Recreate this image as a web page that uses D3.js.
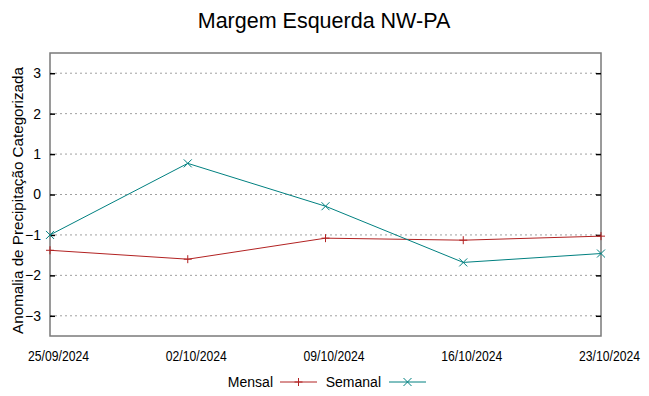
<!DOCTYPE html>
<html>
<head>
<meta charset="utf-8">
<script src="https://cdn.jsdelivr.net/npm/d3@7"></script>
<style>
  body { margin: 0; background: #fff; }
  text { font-family: "Liberation Sans", Arial, sans-serif; }
</style>
</head>
<body>
<div id="chart"></div>
<script>
// chart values
var dates = ["25/09/2024", "02/10/2024", "09/10/2024", "16/10/2024", "23/10/2024"];
var mensal = [-1.38, -1.60, -1.08, -1.13, -1.03];
var semanal = [-1.00, 0.77, -0.29, -1.68, -1.46];
var yTicks = [-3, -2, -1, 0, 1, 2, 3];

var W = 649, H = 396;
var margin = {top: 53, right: 48, bottom: 60, left: 50},
    width = W - margin.left - margin.right,
    height = H - margin.top - margin.bottom;

var svg = d3.select("#chart").append("svg")
    .attr("width", W)
    .attr("height", H);

var g = svg.append("g")
    .attr("transform", "translate(" + margin.left + "," + margin.top + ")");

var x = d3.scalePoint()
    .domain(dates)
    .range([0, width]);

var y = d3.scaleLinear()
    .domain([-3.5, 3.5])
    .range([height, 0]);

// grid
g.selectAll(".grid")
    .data(yTicks)
    .enter()
    .append("line")
    .attr("class", "grid")
    .attr("x1", 0)
    .attr("x2", width)
    .attr("y1", function(d){ return y(d); })
    .attr("y2", function(d){ return y(d); })
    .attr("stroke", "#a0a0a0")
    .attr("stroke-width", 1)
    .attr("stroke-dasharray", "2,3");

// border
g.append("rect")
    .attr("x", 0)
    .attr("y", 0)
    .attr("width", width)
    .attr("height", height)
    .attr("fill", "none")
    .attr("stroke", "#7a7a7a")
    .attr("stroke-width", 1.5);

// y axis, left and mirrored right
var yAxis = d3.axisLeft(y).tickValues(yTicks).tickSize(-5).tickPadding(9).tickFormat(d3.format("d"));
var ya = g.append("g").attr("class", "y axis").call(yAxis);
ya.select(".domain").remove();
ya.selectAll("line").attr("stroke", "#000").attr("stroke-width", 1.5);
ya.selectAll("text").style("font-size", "14px").attr("fill", "#000");

var yAxisR = d3.axisRight(y).tickValues(yTicks).tickSize(-5).tickFormat("");
var yr = g.append("g").attr("transform", "translate(" + width + ",0)").call(yAxisR);
yr.select(".domain").remove();
yr.selectAll("line").attr("stroke", "#000").attr("stroke-width", 1.5);

// x axis labels: condensed look, a little right of the tick as in the original
var xAxis = d3.axisBottom(x).tickSize(0).tickPadding(15);
var xa = g.append("g")
    .attr("class", "x axis")
    .attr("transform", "translate(0," + height + ")")
    .call(xAxis);
xa.select(".domain").remove();
xa.selectAll("text")
    .style("font-size", "14px")
    .attr("fill", "#000")
    .attr("transform", "scale(0.87,1)")
    .attr("dx", 9.2);

// title
svg.append("text")
    .attr("x", 324)
    .attr("y", 28)
    .style("text-anchor", "middle")
    .style("font-size", "21.5px")
    .text("Margem Esquerda NW-PA");

// y label
svg.append("text")
    .attr("transform", "translate(23," + (margin.top + height / 2 + 6) + ") rotate(-90)")
    .style("text-anchor", "middle")
    .style("font-size", "15.2px")
    .text("Anomalia de Precipitação Categorizada");

var line = d3.line()
    .x(function(d, i){ return x(dates[i]); })
    .y(function(d){ return y(d); });

var series = [
    {name: "Mensal", values: mensal, color: "#b22222", mark: "plus"},
    {name: "Semanal", values: semanal, color: "#008080", mark: "cross"}
];

function drawMark(sel, cx, cy, type, color) {
    var s = 4;
    if (type == "plus") {
        sel.append("path")
            .attr("d", "M" + (cx - s) + "," + cy + "H" + (cx + s) + "M" + cx + "," + (cy - s) + "V" + (cy + s))
            .attr("stroke", color).attr("stroke-width", 1).attr("fill", "none");
    } else {
        sel.append("path")
            .attr("d", "M" + (cx - s) + "," + (cy - s) + "L" + (cx + s) + "," + (cy + s) + "M" + (cx - s) + "," + (cy + s) + "L" + (cx + s) + "," + (cy - s))
            .attr("stroke", color).attr("stroke-width", 1).attr("fill", "none");
    }
}

series.forEach(function(s){
    g.append("path")
        .datum(s.values)
        .attr("fill", "none")
        .attr("stroke", s.color)
        .attr("stroke-width", 1)
        .attr("d", line);
    s.values.forEach(function(v, i){
        drawMark(g, x(dates[i]), y(v), s.mark, s.color);
    });
});

// legend
var legend = svg.append("g");
var legendItems = [
    {x: 273, lx: 280},
    {x: 381, lx: 389}
];
series.forEach(function(s, i){
    var it = legendItems[i];
    legend.append("text")
        .attr("x", it.x)
        .attr("y", 387)
        .style("text-anchor", "end")
        .style("font-size", "14px")
        .text(s.name);
    legend.append("line")
        .attr("x1", it.lx)
        .attr("x2", it.lx + 37)
        .attr("y1", 382)
        .attr("y2", 382)
        .attr("stroke", s.color)
        .attr("stroke-width", 1);
    drawMark(legend, it.lx + 18.5, 382, s.mark, s.color);
});
</script>
</body>
</html>
